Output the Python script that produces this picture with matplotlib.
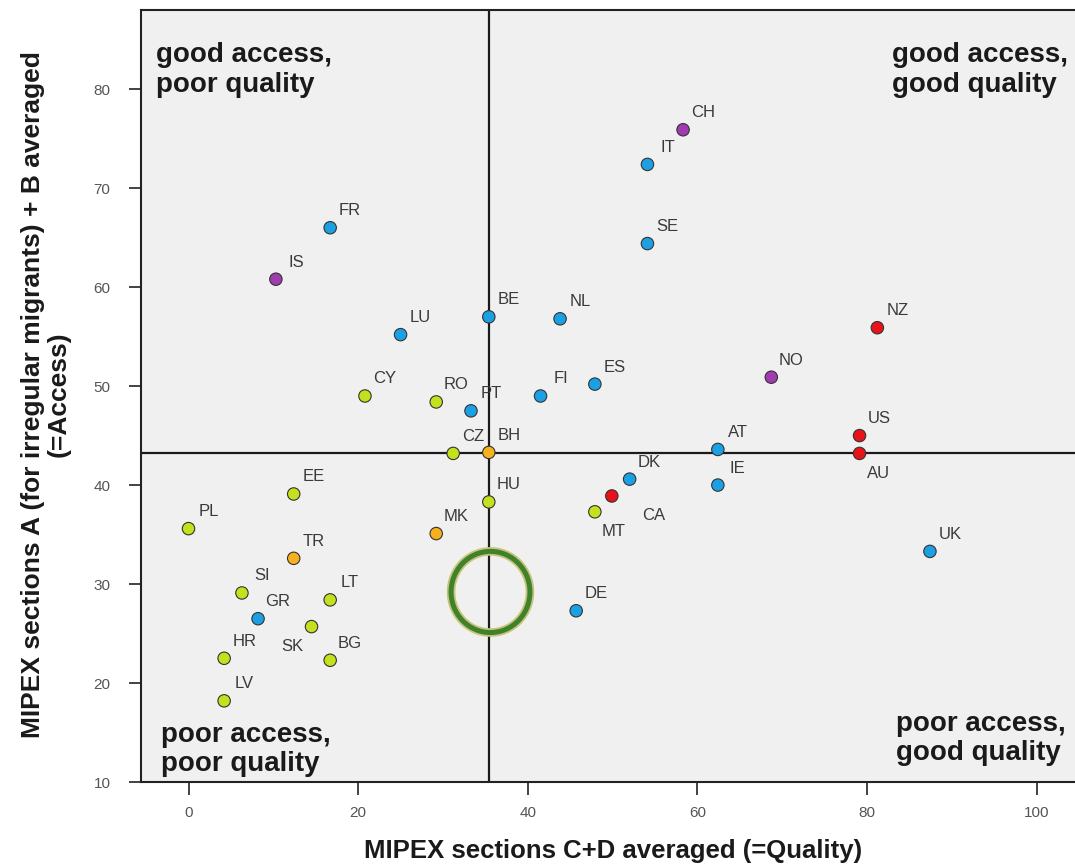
import matplotlib; matplotlib.use("Agg")
import matplotlib.pyplot as plt
from matplotlib.patches import Ellipse

# MIPEX scores per country: quality (x) vs access (y)
countries = ["CH", "IT", "SE", "FR", "IS", "BE", "NL", "LU", "NZ", "NO", "ES", "FI", "CY",
             "RO", "PT", "US", "AT", "AU", "BH", "CZ", "DK", "IE", "EE", "CA", "HU", "MT",
             "PL", "MK", "UK", "TR", "SI", "LT", "DE", "GR", "SK", "HR", "BG", "LV"]
quality = [58.3, 54.1, 54.1, 16.7, 10.3, 35.4, 43.8, 25.0, 81.2, 68.7, 47.9, 41.5, 20.8,
           29.2, 33.3, 79.1, 62.4, 79.1, 35.4, 31.2, 52.0, 62.4, 12.4, 49.9, 35.4, 47.9,
           0.0, 29.2, 87.4, 12.4, 6.3, 16.7, 45.7, 8.2, 14.5, 4.2, 16.7, 4.2]
access = [75.9, 72.4, 64.4, 66.0, 60.8, 57.0, 56.8, 55.2, 55.9, 50.9, 50.2, 49.0, 49.0,
          48.4, 47.5, 45.0, 43.6, 43.2, 43.3, 43.2, 40.6, 40.0, 39.1, 38.9, 38.3, 37.3,
          35.6, 35.1, 33.3, 32.6, 29.1, 28.4, 27.3, 26.5, 25.7, 22.5, 22.3, 18.2]
group = ["purple", "blue", "blue", "blue", "purple", "blue", "blue", "blue", "red", "purple",
         "blue", "blue", "lime", "lime", "blue", "red", "blue", "red", "orange", "lime",
         "blue", "blue", "lime", "red", "lime", "lime", "lime", "orange", "blue", "orange",
         "lime", "lime", "blue", "blue", "lime", "lime", "lime", "lime"]

mean_quality = 35.4
mean_access = 43.2
highlight = (35.6, 29.2)

palette = {"blue": "#1ca0e4", "lime": "#c5e01c", "orange": "#f7b11e",
           "red": "#e8131a", "purple": "#a03cb0"}
# labels that sit somewhere other than up-right of the dot (pixels)
label_offset = {"SK": (-19, -20), "AU": (19, -20), "CA": (42, -20), "MT": (19, -20)}

plt.rcParams["font.family"] = ["Liberation Sans", "DejaVu Sans"]

fig = plt.figure(figsize=(10.75, 8.65), dpi=100)
ax = fig.add_axes([141 / 1075, 83 / 865, 934 / 1075, 772 / 865])
ax.set_facecolor("#f0f0f0")

ax.axvline(mean_quality, color="#1a1a1a", lw=1.6, zorder=1)
ax.axhline(mean_access, color="#1a1a1a", lw=1.6, zorder=1)

ax.scatter(quality, access, s=80, c=[palette[g] for g in group],
           edgecolors="#333333", linewidths=0.8, zorder=3)

for name, x, y in zip(countries, quality, access):
    dx, dy = label_offset.get(name, (20, 17))
    ax.annotate(name, (x, y), xytext=(dx, dy), textcoords="offset pixels",
                ha="center", va="center", fontsize=12, color="#3a3a3a", zorder=4)

# highlight ring
ax.add_patch(Ellipse(highlight, 9.3, 8.2, fill=False, ec="#c9c37a", lw=6.2, zorder=2))
ax.add_patch(Ellipse(highlight, 9.3, 8.2, fill=False, ec="#3f822c", lw=3.6, zorder=2))

# quadrant captions (va=baseline anchors the last line)
qk = dict(fontsize=20, fontweight="bold", color="#1a1a1a", linespacing=1.17,
          transform=ax.transAxes, va="baseline", ha="left")
ax.text(0.016, 0.894, "good access,\npoor quality", **qk)
ax.text(0.804, 0.894, "good access,\ngood quality", **qk)
ax.text(0.021, 0.014, "poor access,\npoor quality", **qk)
ax.text(0.808, 0.028, "poor access,\ngood quality", **qk)

ax.set_xlim(-5.6, 104.5)
ax.set_ylim(10, 88)
ax.set_xticks([0, 20, 40, 60, 80, 100])
ax.set_yticks([10, 20, 30, 40, 50, 60, 70, 80])
ax.tick_params(axis="both", direction="out", length=9, width=1.2, color="#222222",
               labelsize=11, labelcolor="#555555")
ax.tick_params(axis="y", pad=13)
ax.tick_params(axis="x", pad=8)
for side in ["left", "bottom", "top"]:
    ax.spines[side].set_color("#222222")
    ax.spines[side].set_linewidth(1.5)
ax.spines["right"].set_visible(False)

ax.set_xlabel("MIPEX sections C+D averaged (=Quality)", fontsize=18.5, fontweight="bold",
              color="#1a1a1a")
ax.xaxis.set_label_coords(0.505, -0.074)
ax.set_ylabel("MIPEX sections A (for irregular migrants) + B averaged\n(=Access)",
              fontsize=19, fontweight="bold", color="#1a1a1a", linespacing=1.05)
ax.yaxis.set_label_coords(-0.102, 0.502)
ax.yaxis.label.set_va("center")

fig.savefig("out.png", dpi=100)
print("Saved out.png")
